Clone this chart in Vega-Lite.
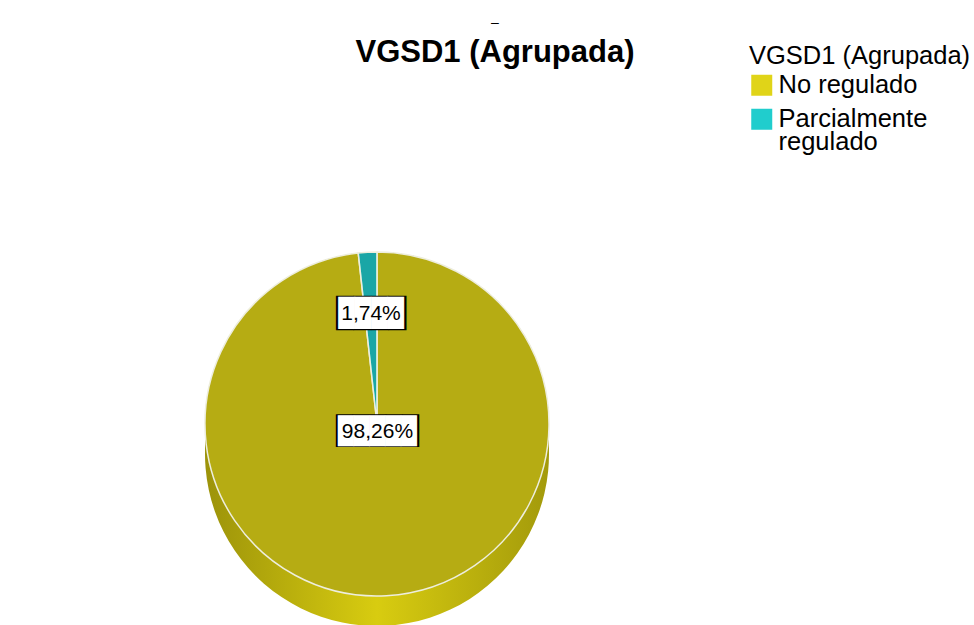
{
  "$schema": "https://vega.github.io/schema/vega-lite/v6.json",
  "width": 754,
  "height": 402,
  "autosize": {"type": "none"},
  "padding": {"left": 0, "top": 223, "right": 220, "bottom": 0},
  "background": "white",
  "title": {
    "text": "–",
    "subtitle": "VGSD1 (Agrupada)",
    "anchor": "middle",
    "frame": "group",
    "dx": 118,
    "offset": -24,
    "font": "Liberation Sans",
    "fontSize": 14,
    "fontWeight": "normal",
    "color": "black",
    "subtitleFont": "Liberation Sans",
    "subtitleFontSize": 31,
    "subtitleFontWeight": "bold",
    "subtitleColor": "black",
    "subtitlePadding": 8
  },
  "data": {
    "values": [
      {"cat": "No regulado", "pct": 98.26, "label": "98,26%"},
      {"cat": "Parcialmente regulado", "pct": 1.74, "label": "1,74%"}
    ]
  },
  "encoding": {
    "theta": {"field": "pct", "type": "quantitative", "stack": true},
    "order": {"field": "cat", "type": "nominal"}
  },
  "layer": [
    {
      "mark": {"type": "arc", "radius": 172, "yOffset": 30,
        "color": {"gradient": "linear", "x1": 0, "x2": 1, "y1": 0, "y2": 0,
          "stops": [{"offset": 0, "color": "#9c930a"}, {"offset": 0.5, "color": "#d8cc10"}, {"offset": 1, "color": "#a39a0b"}]}},
      "encoding": {"detail": {"field": "cat", "type": "nominal"}}
    },
    {
      "mark": {"type": "arc", "radius": 172, "yOffset": 15,
        "color": {"gradient": "linear", "x1": 0, "x2": 1, "y1": 0, "y2": 0,
          "stops": [{"offset": 0, "color": "#9c930a"}, {"offset": 0.5, "color": "#d8cc10"}, {"offset": 1, "color": "#a39a0b"}]}},
      "encoding": {"detail": {"field": "cat", "type": "nominal"}}
    },
    {
      "mark": {"type": "arc", "radius": 172, "color": "black"},
      "encoding": {"detail": {"field": "cat", "type": "nominal"}}
    },
    {
      "mark": {"type": "arc", "radius": 172, "fillOpacity": 0.81, "stroke": "#eeeedd", "strokeWidth": 1.5, "strokeOpacity": 1},
      "encoding": {
        "color": {
          "field": "cat",
          "type": "nominal",
          "scale": {"domain": ["No regulado", "Parcialmente regulado"], "range": ["#e0d418", "#20cdcd"]},
          "legend": {
            "title": "VGSD1 (Agrupada)",
            "orient": "none",
            "legendX": 749,
            "legendY": -179,
            "padding": 0,
            "symbolType": "square",
            "symbolSize": 441,
            "symbolStrokeWidth": 0,
            "symbolOpacity": 1,
            "titleFont": "Liberation Sans",
            "titleFontSize": 25.5,
            "titleFontWeight": "normal",
            "titleColor": "black",
            "titleLimit": 400,
            "titlePadding": 3,
            "labelFont": "Liberation Sans",
            "labelFontSize": 25.5,
            "labelColor": "black",
            "labelLimit": 300,
            "labelOffset": 4,
            "rowPadding": 7,
            "labelExpr": "datum.label == 'Parcialmente regulado' ? ['Parcialmente', 'regulado'] : datum.label"
          }
        }
      }
    },
    {
      "mark": {"type": "text", "radius": 110, "font": "DejaVu Sans Mono", "fontSize": 29, "color": "black", "baseline": "middle", "align": "center"},
      "encoding": {"detail": {"field": "cat", "type": "nominal"},
        "text": {"condition": {"test": "datum.cat == 'Parcialmente regulado'", "value": "████"}, "value": ""}}
    },
    {
      "mark": {"type": "text", "radius": 110, "font": "DejaVu Sans Mono", "fontSize": 27.2, "color": "white", "baseline": "middle", "align": "center"},
      "encoding": {"detail": {"field": "cat", "type": "nominal"},
        "text": {"condition": {"test": "datum.cat == 'Parcialmente regulado'", "value": "████"}, "value": ""}}
    },
    {
      "mark": {"type": "text", "radius": 110, "font": "Liberation Sans", "fontSize": 21, "color": "black", "baseline": "middle", "align": "center"},
      "encoding": {"detail": {"field": "cat", "type": "nominal"},
        "text": {"condition": {"test": "datum.cat == 'Parcialmente regulado'", "field": "label"}, "value": ""}}
    },
    {
      "mark": {"type": "text", "radius": 8, "font": "DejaVu Sans Mono", "fontSize": 27.6, "color": "black", "baseline": "middle", "align": "center"},
      "encoding": {"detail": {"field": "cat", "type": "nominal"},
        "text": {"condition": {"test": "datum.cat == 'No regulado'", "value": "█████"}, "value": ""}}
    },
    {
      "mark": {"type": "text", "radius": 8, "font": "DejaVu Sans Mono", "fontSize": 26.2, "color": "white", "baseline": "middle", "align": "center"},
      "encoding": {"detail": {"field": "cat", "type": "nominal"},
        "text": {"condition": {"test": "datum.cat == 'No regulado'", "value": "█████"}, "value": ""}}
    },
    {
      "mark": {"type": "text", "radius": 8, "font": "Liberation Sans", "fontSize": 21, "color": "black", "baseline": "middle", "align": "center"},
      "encoding": {"detail": {"field": "cat", "type": "nominal"},
        "text": {"condition": {"test": "datum.cat == 'No regulado'", "field": "label"}, "value": ""}}
    }
  ],
  "config": {"view": {"stroke": null}, "style": {"guide-label": {"lineHeight": 23}}}
}
